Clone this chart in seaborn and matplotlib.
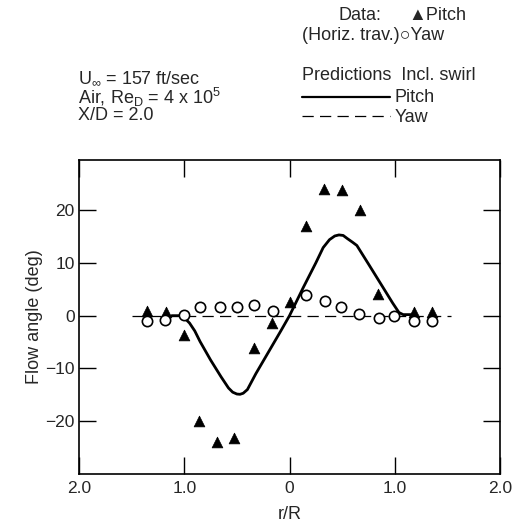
import matplotlib
matplotlib.use("Agg")
import matplotlib.pyplot as plt
from matplotlib.lines import Line2D
import seaborn as sns

# measured data (horizontal traverse)
pitch_r = [-1.35, -1.17, -1.0, -0.86, -0.69, -0.53, -0.34, -0.17, 0.0, 0.16, 0.33, 0.50, 0.67, 0.84, 1.18, 1.35]
pitch_deg = [0.8, 0.6, -3.7, -19.9, -24.0, -23.1, -6.1, -1.4, 2.6, 17.0, 24.0, 23.8, 20.0, 4.1, 0.6, 0.6]

yaw_r = [-1.35, -1.18, -1.0, -0.85, -0.66, -0.50, -0.34, -0.16, 0.16, 0.34, 0.49, 0.66, 0.85, 0.99, 1.18, 1.35]
yaw_deg = [-1.0, -0.9, 0.2, 1.6, 1.6, 1.7, 2.1, 0.8, 3.9, 2.8, 1.6, 0.3, -0.4, -0.1, -1.1, -1.1]

# predictions incl. swirl
pred_pitch_r = [-1.12, -1.05, -1.00, -0.95, -0.90, -0.85, -0.75, -0.65, -0.58, -0.54, -0.50, -0.47,
                -0.44, -0.40, -0.32, -0.20, -0.08, 0.0, 0.13, 0.25, 0.32, 0.38, 0.43, 0.47, 0.51,
                0.55, 0.60, 0.64, 0.75, 0.89, 0.98, 1.04, 1.08, 1.16]
pred_pitch_deg = [0, 0, -0.4, -1.4, -2.9, -4.9, -8.4, -11.6, -13.7, -14.5, -14.85, -14.9,
                  -14.7, -14.0, -11.0, -6.9, -2.8, 0.0, 5.3, 10.0, 12.9, 14.4, 15.1, 15.3, 15.2,
                  14.6, 13.9, 13.3, 9.8, 5.3, 2.4, 0.6, 0.2, 0.2]
pred_yaw_r = [-1.5, 1.53]
pred_yaw_deg = [0, 0]

x_ticks = [-2, -1, 0, 1, 2]
x_labels = ["2.0", "1.0", "0", "1.0", "2.0"]
y_ticks = [-20, -10, 0, 10, 20]
y_labels = ["\u221220", "\u221210", "0", "10", "20"]

sns.set_style("ticks")
plt.rcParams['font.family'] = ['Liberation Sans', 'DejaVu Sans']
plt.rcParams['mathtext.default'] = 'regular'

fig = plt.figure(figsize=(5.2, 5.28), dpi=100)
ax = fig.add_axes([0.152, 0.1023, 0.8095, 0.5947])

sns.lineplot(x=pred_yaw_r, y=pred_yaw_deg, ax=ax, color="black", lw=0.9,
             linestyle=(0, (9, 5)), sort=False)
sns.lineplot(x=pred_pitch_r, y=pred_pitch_deg, ax=ax, color="black", lw=2.0, sort=False)

sns.scatterplot(x=pitch_r, y=pitch_deg, ax=ax, marker="^", s=60, color="black",
                edgecolor="black", linewidth=0.5, zorder=5)
sns.scatterplot(x=yaw_r, y=yaw_deg, ax=ax, marker="o", s=55, facecolor="white",
                edgecolor="black", linewidth=1.2, zorder=5)

ax.set_xlim(-2, 2)
ax.set_ylim(-30, 29.5)
ax.set_xticks(x_ticks)
ax.set_xticklabels(x_labels)
ax.set_yticks(y_ticks)
ax.set_yticklabels(y_labels)
ax.tick_params(axis="both", direction="in", length=12, width=1.0, labelsize=12.5,
               top=True, right=True, color="black")
ax.tick_params(axis="x", pad=5)
ax.tick_params(axis="y", pad=3)
for sp in ax.spines.values():
    sp.set_linewidth(1.2)
    sp.set_color("black")

ax.set_xlabel("r/R", fontsize=13, labelpad=7)
ax.set_ylabel("Flow angle (deg)", fontsize=13, labelpad=2)

# legend / annotations
fs = 13
fig.text(338 / 520, 1 - 15 / 528, "Data:", fontsize=fs, va="center", ha="left")
fig.text(408 / 520, 1 - 15 / 528, "\u25b2Pitch", fontsize=fs, va="center", ha="left")
fig.text(302 / 520, 1 - 35 / 528, "(Horiz. trav.)\u25cbYaw", fontsize=fs, va="center", ha="left")
fig.text(302 / 520, 1 - 75 / 528, "Predictions  Incl. swirl", fontsize=fs, va="center", ha="left")
fig.text(395 / 520, 1 - 98 / 528, "Pitch", fontsize=fs, va="center", ha="left")
fig.text(395 / 520, 1 - 117 / 528, "Yaw", fontsize=fs, va="center", ha="left")
fig.add_artist(Line2D([302 / 520, 390 / 520], [1 - 97 / 528, 1 - 97 / 528],
                      transform=fig.transFigure, color="black", lw=1.6))
fig.add_artist(Line2D([302 / 520, 390 / 520], [1 - 116 / 528, 1 - 116 / 528],
                      transform=fig.transFigure, color="black", lw=0.9, linestyle=(0, (9, 5))))

fig.text(78 / 520, 1 - 78 / 528, r"U$_{\infty}$ = 157 ft/sec", fontsize=fs, va="center", ha="left")
fig.text(78 / 520, 1 - 97 / 528, r"Air, Re$_D$ = 4 x 10$^5$", fontsize=fs, va="center", ha="left")
fig.text(78 / 520, 1 - 116 / 528, "X/D = 2.0", fontsize=fs, va="center", ha="left")

fig.savefig("out.png", dpi=100)
